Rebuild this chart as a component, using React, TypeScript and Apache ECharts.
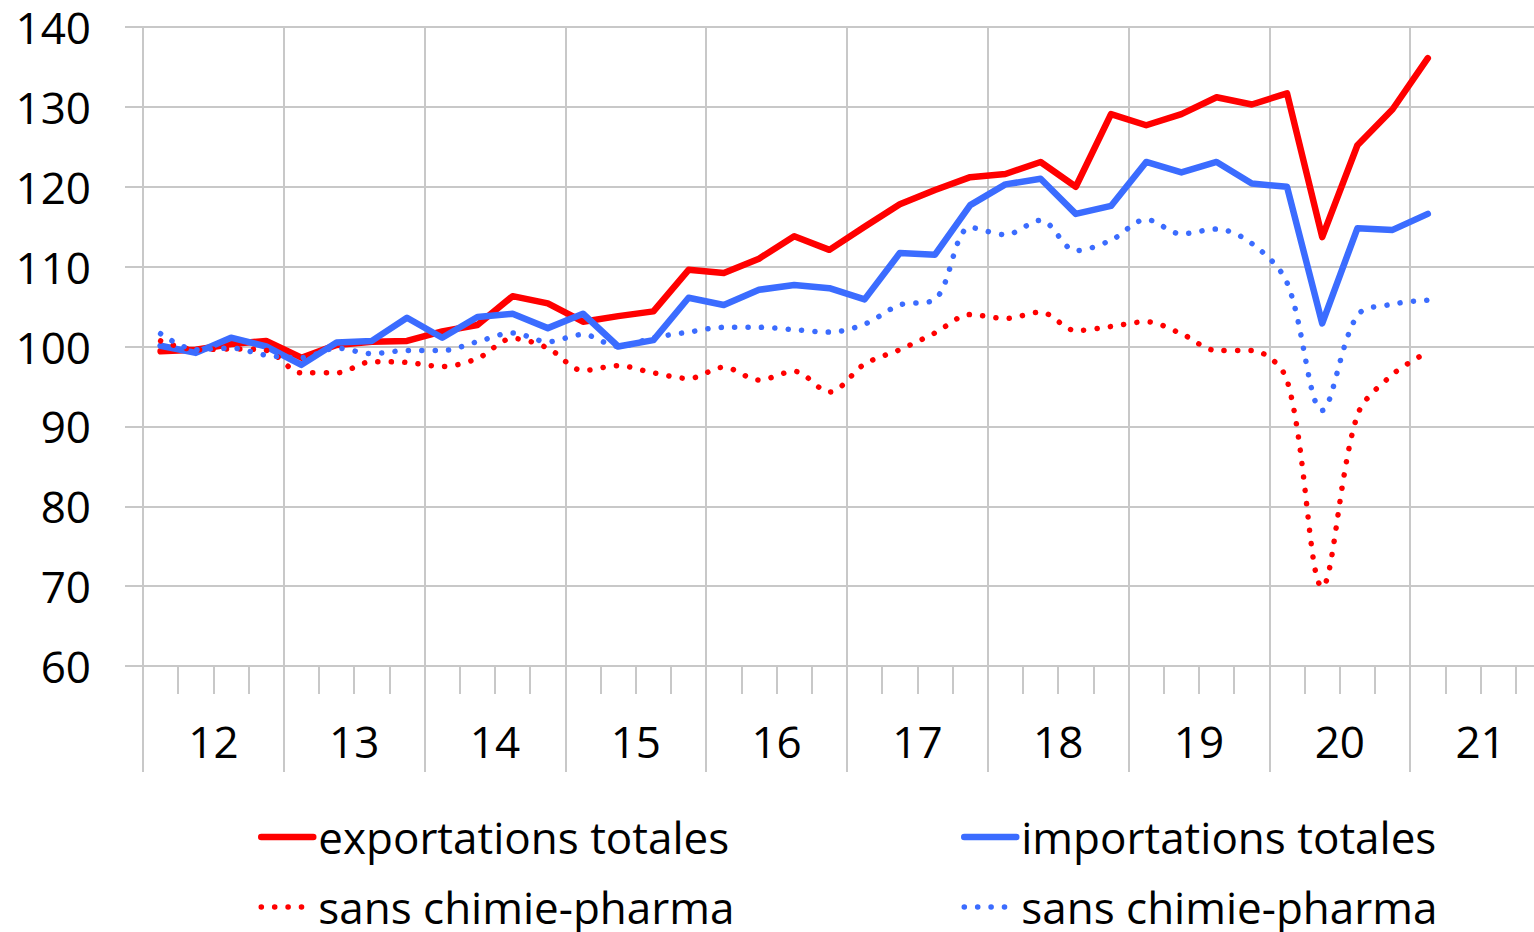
import React, { useEffect, useRef } from 'react';
import * as echarts from 'echarts';

// Years on the axis (2012 .. 2021) and quarters (4 per year)
const years: string[] = ['12', '13', '14', '15', '16', '17', '18', '19', '20', '21'];
const quarterNames: string[] = ['T1', 'T2', 'T3', 'T4'];
const quarters: string[] = years.flatMap((y) => quarterNames.map((q) => `${y}${q}`));

// Quarterly indices, 2012T1 .. 2021T1
const exportationsTotales: number[] = [
  99.4, 99.6, 100.3, 100.7, 98.6, 100.2, 100.6, 100.7,
  101.9, 102.7, 106.3, 105.4, 103.1, 103.8, 104.4, 109.6,
  109.2, 111.0, 113.8, 112.1, 115.0, 117.8, 119.6, 121.2,
  121.6, 123.1, 120.0, 129.1, 127.7, 129.1, 131.2, 130.3,
  131.7, 113.7, 125.2, 129.7, 136.1,
];
const importationsTotales: number[] = [
  100.1, 99.2, 101.1, 100.0, 97.7, 100.5, 100.7, 103.6,
  101.1, 103.7, 104.1, 102.3, 104.1, 100.0, 100.8, 106.1,
  105.2, 107.1, 107.7, 107.3, 105.9, 111.7, 111.5, 117.7,
  120.3, 121.0, 116.6, 117.6, 123.1, 121.8, 123.1, 120.4,
  120.0, 102.9, 114.8, 114.6, 116.6,
];
const exportationsSansPharma: number[] = [
  100.7, 99.6, 99.7, 99.5, 96.7, 96.7, 98.1, 98.0,
  97.5, 98.5, 101.0, 99.8, 97.0, 97.6, 96.7, 96.0,
  97.4, 95.8, 96.9, 94.3, 97.8, 99.6, 101.7, 104.0,
  103.5, 104.3, 102.0, 102.5, 103.1, 101.6, 99.5, 99.5,
  95.8, 69.9, 91.4, 96.5, 99.3,
];
const importationsSansPharma: number[] = [
  101.6, 99.6, 99.8, 98.9, 98.6, 99.8, 99.1, 99.5,
  99.5, 100.6, 101.7, 100.6, 101.5, 100.0, 101.1, 101.8,
  102.4, 102.4, 102.1, 101.8, 102.8, 105.2, 105.9, 114.9,
  114.0, 115.8, 112.0, 113.3, 115.9, 114.1, 114.7, 112.9,
  108.0, 92.0, 103.9, 105.3, 105.8,
];

const RED = '#FF0000';
const BLUE = '#3B6CFF';
const GREY = '#C8C8C8';
const FONT = '"Open Sans", "Noto Sans", sans-serif';
const SOLID_W = 6.5;
const DOT_W = 5.5;
const DOT_DASH = [0.1, 13.3];

export default function App() {
  const ref = useRef<HTMLDivElement>(null);

  useEffect(() => {
    if (!ref.current) return;
    const chart = echarts.init(ref.current, undefined, { renderer: 'svg' });
    const legendText = {
      fontSize: 44,
      fontFamily: FONT,
      color: '#000',
      lineHeight: 44,
    };
    const legendFormatter = (name: string) => name.replace(/ \(.*\)$/, '');
    const solidLegend = { width: SOLID_W, cap: 'round' };
    const dotLegend = { width: DOT_W, type: DOT_DASH, cap: 'round' };
    const legendBase = {
      top: 815,
      orient: 'vertical',
      padding: 0,
      itemWidth: 52,
      itemHeight: 14,
      itemGap: 26,
      selectedMode: false,
      itemStyle: { opacity: 0 },
      textStyle: legendText,
      formatter: legendFormatter,
    };
    const option: any = {
      animation: false,
      backgroundColor: '#FFFFFF',
      grid: { left: 143, top: 27, width: 1408, height: 639, containLabel: false },
      xAxis: [
        {
          type: 'category',
          data: quarters,
          boundaryGap: true,
          position: 'bottom',
          axisLine: { show: true, lineStyle: { color: GREY, width: 2 } },
          axisTick: { show: true, interval: 0, length: 28, lineStyle: { color: GREY, width: 2 } },
          axisLabel: { show: false },
          splitLine: { show: false },
        },
        {
          type: 'category',
          data: years,
          boundaryGap: true,
          position: 'bottom',
          axisLine: { show: false },
          axisTick: { show: true, interval: 0, length: 106, lineStyle: { color: GREY, width: 2 } },
          axisLabel: {
            show: true,
            interval: 0,
            margin: 53,
            fontSize: 44,
            fontFamily: FONT,
            color: '#000',
          },
          splitLine: { show: true, interval: 0, lineStyle: { color: GREY, width: 2 } },
        },
      ],
      yAxis: {
        type: 'value',
        min: 60,
        max: 140,
        interval: 10,
        axisLine: { show: true, lineStyle: { color: GREY, width: 2 } },
        axisTick: { show: true, length: 18, lineStyle: { color: GREY, width: 2 } },
        axisLabel: { margin: 52, fontSize: 44, fontFamily: FONT, color: '#000' },
        splitLine: { show: true, lineStyle: { color: GREY, width: 2 } },
      },
      legend: [
        {
          ...legendBase,
          left: 258,
          data: [
            { name: 'exportations totales', lineStyle: solidLegend },
            { name: 'sans chimie-pharma (exportations)', lineStyle: dotLegend },
          ],
        },
        {
          ...legendBase,
          left: 961,
          data: [
            { name: 'importations totales', lineStyle: solidLegend },
            { name: 'sans chimie-pharma (importations)', lineStyle: dotLegend },
          ],
        },
      ],
      series: [
        {
          name: 'exportations totales',
          type: 'line',
          xAxisIndex: 0,
          data: exportationsTotales,
          symbol: 'none',
          itemStyle: { color: RED },
          lineStyle: { color: RED, width: SOLID_W, cap: 'round', join: 'round' },
        },
        {
          name: 'importations totales',
          type: 'line',
          xAxisIndex: 0,
          data: importationsTotales,
          symbol: 'none',
          itemStyle: { color: BLUE },
          lineStyle: { color: BLUE, width: SOLID_W, cap: 'round', join: 'round' },
        },
        {
          name: 'sans chimie-pharma (exportations)',
          type: 'line',
          xAxisIndex: 0,
          data: exportationsSansPharma,
          symbol: 'none',
          smooth: 0.33,
          itemStyle: { color: RED },
          lineStyle: { color: RED, width: DOT_W, type: DOT_DASH, cap: 'round', join: 'round' },
        },
        {
          name: 'sans chimie-pharma (importations)',
          type: 'line',
          xAxisIndex: 0,
          data: importationsSansPharma,
          symbol: 'none',
          smooth: 0.33,
          itemStyle: { color: BLUE },
          lineStyle: { color: BLUE, width: DOT_W, type: DOT_DASH, cap: 'round', join: 'round' },
        },
      ],
    };
    chart.setOption(option);
    return () => {
      chart.dispose();
    };
  }, []);

  return (
    <div
      style={{
        position: 'fixed',
        left: 0,
        top: 0,
        width: 1534,
        height: 932,
        overflow: 'hidden',
        background: '#fff',
      }}
    >
      <div ref={ref} style={{ width: 1570, height: 932 }} />
    </div>
  );
}
